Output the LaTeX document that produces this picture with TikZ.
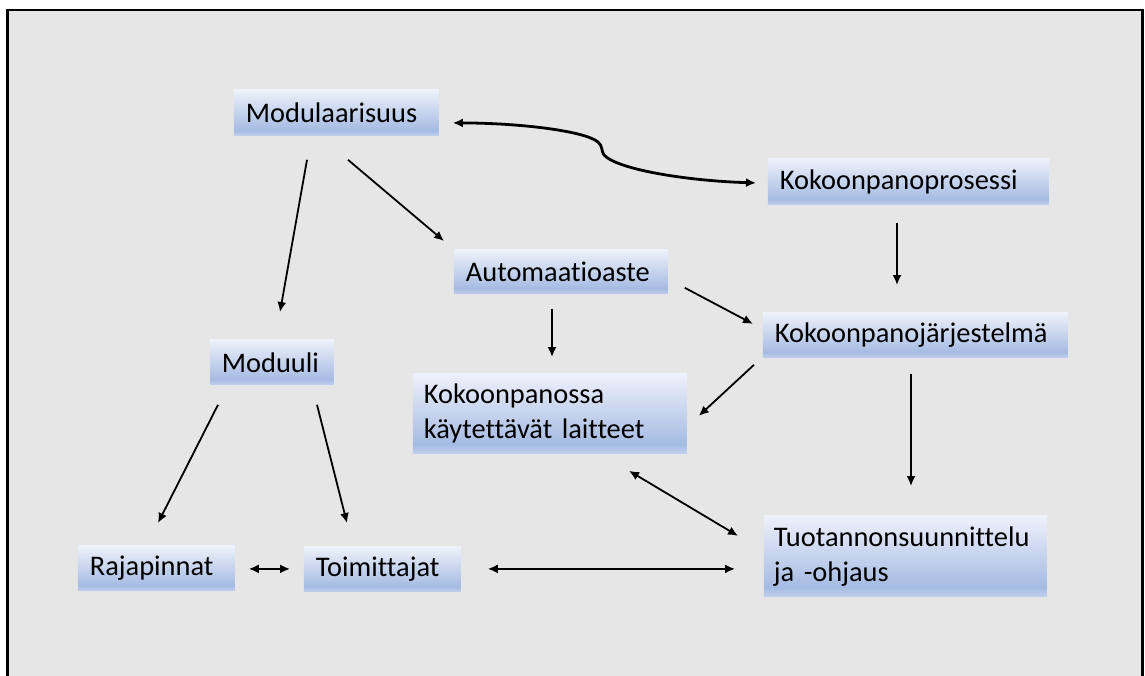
\documentclass[tikz,border=0pt]{standalone}
\usepackage{fontspec}
\setmainfont{Carlito}[Ligatures=NoCommon]
\usetikzlibrary{arrows.meta,calc}

\definecolor{bggray}{RGB}{230,230,230}
\definecolor{boxtop}{RGB}{238,241,250}
\definecolor{boxdark}{RGB}{166,187,227}
\definecolor{boxlow}{RGB}{194,208,237}
\pgfdeclareverticalshading{boxshade}{100bp}{color(0bp)=(boxlow); color(25bp)=(boxlow); color(31bp)=(boxdark); color(75bp)=(boxtop); color(100bp)=(boxtop)}

\tikzset{
  box/.style={shading=boxshade,anchor=north west,inner xsep=12pt,inner ysep=0pt,align=left,
    font=\fontsize{28.4}{35}\selectfont},
  arr/.style={->},
  twoway/.style={<->}
}

\begin{document}
\begin{tikzpicture}[x=1pt,y=-1pt,line width=1.8pt,>={Latex[length=10pt,width=9pt]}]
  \useasboundingbox (0,0) rectangle (1145,675);
  \clip (0,0) rectangle (1145,675);
  \fill[white] (0,0) rectangle (1145,675);
  \draw[line width=2.4pt,fill=bggray] (7.5,10) rectangle (1142.5,700);
  % laatikot
  \node[box,text width=181pt,minimum height=46pt] (modul) at (233,89) {Modulaarisuus};
  \node[box,text width=257pt,minimum height=46pt] (prosessi) at (767,158) {Kokoonpanoprosessi};
  \node[box,text width=190pt,minimum height=44pt] (autom) at (453,249) {Automaatioaste};
  \node[box,text width=281pt,minimum height=45pt] (jarj) at (762,312) {Kokoonpanojärjestelmä};
  \node[box,text width=100pt,minimum height=45pt] (moduuli) at (209,339) {Moduuli};
  \node[box,text width=252pt,minimum height=80pt,inner xsep=11pt] (laitteet) at (412,373) {Kokoonpanossa\\käytettävät laitteet};
  \node[box,text width=133pt,minimum height=45pt] (rajap) at (77,545) {Rajapinnat};
  \node[box,text width=133pt,minimum height=45pt] (toim) at (303,546) {Toimittajat};
  \node[box,text width=263pt,minimum height=81pt,inner xsep=10pt] (tuot) at (763,515) {Tuotannonsuunnittelu\\ja -ohjaus};
  % nuolet
  \draw[arr] ($(modul.south west)+(74,23)$) -- ($(moduuli.north west)+(71,-27)$);
  \draw[arr] ($(modul.south west)+(115,23)$) -- ($(autom.north west)+(-9,-8)$);
  \draw[twoway,line width=2.8pt] ($(modul.east)+(13,10)$) .. controls (520,123) and (585,131) .. (598,142)
    .. controls (603,146) and (601,151) .. (604,155) .. controls (618,170) and (690,181) .. ($(prosessi.west)+(-11,1)$);
  \draw[arr] ($(prosessi.south west)+(130,17)$) -- ($(jarj.north west)+(135,-27)$);
  \draw[arr] ($(autom.south west)+(99,14)$) -- ($(laitteet.north west)+(140,-16)$);
  \draw[arr] ($(autom.south east)+(16,-7)$) -- ($(jarj.west)+(-9,-11.5)$);
  \draw[arr] ($(jarj.south west)+(-8,6)$) -- ($(laitteet.east)+(11,2)$);
  \draw[arr] ($(jarj.south west)+(149,15)$) -- ($(tuot.north west)+(148,-29)$);
  \draw[twoway] ($(laitteet.south west)+(217,16)$) -- ($(tuot.west)+(-25,-20.5)$);
  \draw[arr] ($(moduuli.south west)+(9,19)$) -- ($(rajap.north west)+(81,-22)$);
  \draw[arr] ($(moduuli.south west)+(108,19)$) -- ($(toim.north west)+(44,-23)$);
  \draw[twoway] ($(rajap.east)+(13,0.5)$) -- ($(toim.west)+(-13,-0.5)$);
  \draw[twoway] ($(toim.east)+(26,-0.5)$) -- ($(tuot.west)+(-28,12.5)$);
\end{tikzpicture}
\end{document}
